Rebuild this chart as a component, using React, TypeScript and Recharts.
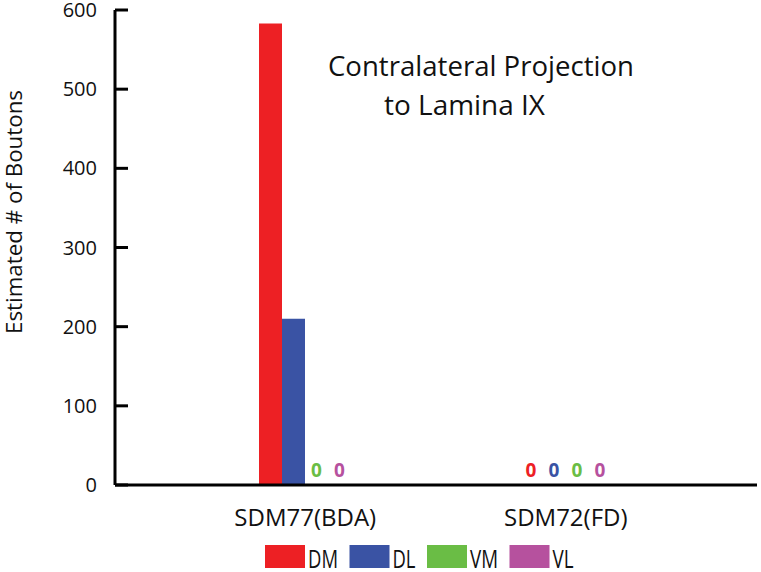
import { BarChart, Bar, XAxis, YAxis, Rectangle } from 'recharts';

const CATEGORIES = ['SDM77(BDA)', 'SDM72(FD)'];
const DM_VALUES = [583, 0];
const DL_VALUES = [210, 0];
const VM_VALUES = [0, 0];
const VL_VALUES = [0, 0];
const Y_TICKS = [0, 100, 200, 300, 400, 500, 600];

const SERIES = [
  { key: 'DM', values: DM_VALUES, color: '#ED2024' }, // red
  { key: 'DL', values: DL_VALUES, color: '#3A53A4' }, // blue
  { key: 'VM', values: VM_VALUES, color: '#6ABD45' }, // green
  { key: 'VL', values: VL_VALUES, color: '#B6519E' }, // magenta
];

const rows = CATEGORIES.map((name, i) => {
  const row: Record<string, string | number> = { name };
  SERIES.forEach((s) => {
    row[s.key] = s.values[i];
  });
  return row;
});

const FONT = '"Open Sans", "DejaVu Sans", sans-serif';
const TICK_MARGIN = 18;

function YTick(props: any) {
  const { x, y, payload } = props;
  const axisX = x + TICK_MARGIN;
  return (
    <g>
      <line x1={axisX} x2={axisX + 13} y1={y} y2={y} stroke="#000" strokeWidth={3} />
      <text x={x} y={y} dy={7} textAnchor="end" fontSize={20} fontFamily={FONT} fill="#111">
        {payload.value}
      </text>
    </g>
  );
}

// bar shape that writes a coloured "0" above empty bars
const barShape = (key: string, color: string) => (props: any) => {
  const { x, y, width, height, payload } = props;
  const v = payload ? Number(payload[key]) : NaN;
  if (v === 0) {
    return (
      <text
        x={Number(x) + Number(width) / 2}
        y={Number(y) + Number(height || 0) - 8}
        textAnchor="middle"
        fill={color}
        fontSize={19}
        fontWeight="bold"
        fontFamily={FONT}
      >
        0
      </text>
    );
  }
  return <Rectangle x={x} y={y} width={width} height={height} fill={color} />;
};

// legend label widths (the original font is a condensed face)
const LEGEND_TEXT_W = [30, 23, 28, 21];

export default function App() {
  let lx = 265;
  const legendItems = SERIES.map((s, i) => {
    const x = lx;
    lx += 40 + 3 + LEGEND_TEXT_W[i] + 11.5;
    return (
      <g key={s.key}>
        <rect x={x} y={545} width={40} height={23} fill={s.color} />
        <text
          x={x + 43}
          y={568}
          fontSize={25}
          fontFamily={FONT}
          fill="#111"
          textLength={LEGEND_TEXT_W[i]}
          lengthAdjust="spacingAndGlyphs"
        >
          {s.key}
        </text>
      </g>
    );
  });

  return (
    <div style={{ position: 'absolute', left: 0, top: 0, width: 761, height: 572, background: '#fff' }}>
      <BarChart
        width={761}
        height={572}
        data={rows}
        margin={{ top: 10, right: 4, left: 0, bottom: 47 }}
        barGap={0}
        barCategoryGap={84}
      >
        <XAxis
          dataKey="name"
          height={40}
          padding={{ left: 60, right: 61 }}
          axisLine={{ stroke: '#000', strokeWidth: 3 }}
          tickLine={false}
          tickSize={0}
          tickMargin={24}
          tick={{ fontSize: 24, fontFamily: FONT, fill: '#111' }}
        />
        <YAxis
          width={115}
          domain={[0, 600]}
          ticks={Y_TICKS}
          interval={0}
          axisLine={{ stroke: '#000', strokeWidth: 3 }}
          tickLine={false}
          tickSize={0}
          tickMargin={TICK_MARGIN}
          tick={<YTick />}
        />
        {SERIES.map((s) => (
          <Bar
            key={s.key}
            dataKey={s.key}
            fill={s.color}
            barSize={23}
            isAnimationActive={false}
            shape={barShape(s.key, s.color)}
          />
        ))}
      </BarChart>
      <svg
        width={761}
        height={572}
        style={{ position: 'absolute', left: 0, top: 0, pointerEvents: 'none' }}
      >
        <text
          x={328}
          y={76}
          fontSize={28}
          fontFamily={FONT}
          fill="#111"
          textLength={306}
          lengthAdjust="spacingAndGlyphs"
        >
          Contralateral Projection
        </text>
        <text
          x={384}
          y={115}
          fontSize={28}
          fontFamily={FONT}
          fill="#111"
          textLength={161}
          lengthAdjust="spacingAndGlyphs"
        >
          to Lamina IX
        </text>
        <text
          transform="translate(22,212) rotate(-90)"
          textAnchor="middle"
          fontSize={22}
          fontFamily={FONT}
          fill="#111"
          textLength={244}
          lengthAdjust="spacingAndGlyphs"
        >
          Estimated # of  Boutons
        </text>
        {legendItems}
      </svg>
    </div>
  );
}
